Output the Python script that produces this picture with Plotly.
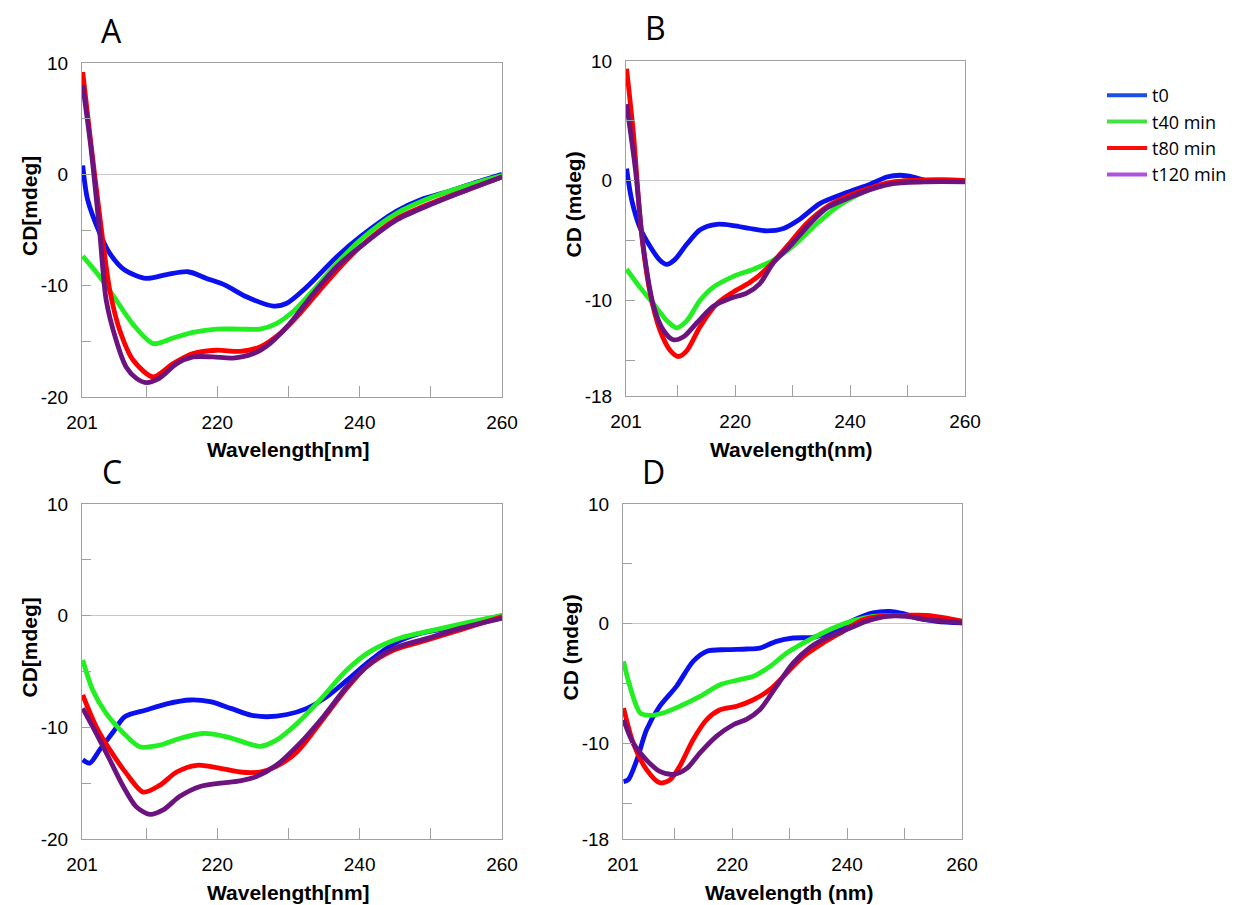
import plotly.graph_objects as go

# ---------------- data (wavelength nm, CD mdeg) ----------------
series_names = ["t0", "t40 min", "t80 min", "t120 min"]

# Panel A
A_t0_x = [201.1, 201.8, 203.5, 204.9, 207, 210, 212.9, 215.9, 218.5, 221.1, 224.1, 227.9, 229.7, 232.6, 236.8, 240.1, 245.2, 248.5, 252.7, 256.5, 260]
A_t0_y = [0.8, -2.3, -5.3, -7.1, -8.6, -9.35, -9.0, -8.75, -9.35, -9.95, -11.0, -11.83, -11.6, -10.1, -7.4, -5.6, -3.3, -2.3, -1.5, -0.7, 0.0]
A_t40_x = [201.1, 203.5, 205.8, 208.2, 211, 213.8, 216.6, 219.9, 223.2, 226, 228.3, 230.7, 233.5, 236.8, 240.1, 245.2, 250.4, 255.1, 260]
A_t40_y = [-7.35, -9.2, -11.3, -13.5, -15.2, -14.7, -14.2, -13.9, -13.9, -13.9, -13.4, -12.3, -10.4, -8.0, -5.9, -3.5, -2.0, -1.0, -0.1]
A_t80_x = [201.1, 202.1, 203.5, 204.9, 206.3, 208.2, 211, 213.8, 216.6, 219.9, 223.2, 226, 228.8, 231.6, 234.4, 237.3, 240.1, 245.2, 250.4, 255.1, 260]
A_t80_y = [9.2, 3.6, -3.8, -10.4, -14.0, -16.7, -18.2, -17.0, -16.1, -15.8, -15.9, -15.5, -14.3, -12.5, -10.4, -8.3, -6.5, -4.0, -2.5, -1.4, -0.24]
A_t120_x = [201.1, 202.3, 203.5, 204.4, 205.8, 207.2, 208.6, 210, 211.9, 214.3, 216.6, 219.4, 222.2, 225.1, 227.4, 230.2, 233.5, 236.8, 240.1, 245.2, 250.4, 255.1, 260]
A_t120_y = [8.0, 2.15, -5.3, -11.3, -14.9, -17.3, -18.3, -18.7, -18.3, -17.0, -16.4, -16.4, -16.5, -16.1, -15.2, -13.4, -10.7, -8.3, -6.5, -4.1, -2.6, -1.4, -0.24]

# Panel B
B_t0_x = [201.1, 202, 203.4, 205.2, 206.9, 208.1, 209.5, 211.6, 213.9, 216.8, 219.7, 222.6, 225.5, 228.4, 231.3, 234.8, 239.4, 243.5, 246.4, 248.7, 251, 253.3, 260]
B_t0_y = [1.0, -1.64, -3.9, -5.5, -6.65, -7.0, -6.6, -5.3, -4.1, -3.65, -3.75, -4.0, -4.2, -4.0, -3.2, -1.9, -1.0, -0.3, 0.3, 0.45, 0.3, 0.0, -0.05]
B_t40_x = [201.1, 203.4, 205.8, 208.1, 209.8, 211.6, 213.9, 216.2, 219.7, 223.2, 226.6, 230.1, 233.6, 237.7, 241.7, 245.2, 249.3, 260]
B_t40_y = [-7.4, -8.9, -10.3, -11.7, -12.3, -11.7, -10.0, -8.9, -8.0, -7.4, -6.65, -5.45, -3.87, -2.2, -1.1, -0.4, -0.05, 0.0]
B_t80_x = [201.1, 202.3, 203.7, 205.2, 206.9, 208.7, 210.1, 211.6, 213.9, 216.8, 219.7, 222.6, 225.5, 229, 232.4, 235.9, 240, 244, 247.5, 251, 256.2, 260]
B_t80_y = [9.35, 3.9, -4.4, -9.4, -12.5, -14.2, -14.7, -14.2, -12.2, -10.3, -9.3, -8.5, -7.35, -5.5, -3.6, -2.2, -1.2, -0.53, -0.1, 0.03, 0.08, 0.0]
B_t120_x = [201.1, 202.6, 204, 205.8, 207.5, 209.2, 211, 213.3, 216.2, 219.1, 222, 224.3, 226.6, 229.5, 233, 235.9, 240, 244, 247.5, 253.3, 260]
B_t120_y = [6.4, 1.1, -5.5, -10.5, -12.5, -13.3, -13.05, -11.9, -10.5, -9.85, -9.4, -8.6, -6.9, -5.5, -3.6, -2.3, -1.4, -0.67, -0.25, -0.1, -0.1]

# Panel C
C_t0_x = [201.1, 202.1, 203.5, 205.4, 207, 210, 212.9, 216.2, 219, 221.9, 224.7, 227, 229.8, 232.6, 235.4, 238.2, 241, 244.8, 248.5, 252.7, 256.5, 260]
C_t0_y = [-12.9, -13.2, -12.0, -10.4, -9.05, -8.45, -7.9, -7.55, -7.7, -8.3, -8.9, -9.05, -8.85, -8.3, -7.25, -5.8, -4.27, -2.5, -1.6, -1.1, -0.54, 0.0]
C_t40_x = [201.1, 202.5, 204.4, 206.8, 209.1, 211.9, 214.7, 218, 221.3, 224.1, 226, 228.3, 231.2, 234.4, 238.2, 241.5, 245.7, 250.4, 255.1, 260]
C_t40_y = [-3.97, -6.66, -8.75, -10.5, -11.74, -11.6, -11.0, -10.55, -10.85, -11.4, -11.7, -11.15, -9.65, -7.56, -4.87, -3.2, -2.0, -1.3, -0.63, 0.0]
C_t80_x = [201.1, 203, 204.9, 207.2, 209.6, 211.9, 214.3, 217.1, 219.9, 223.2, 226, 228.3, 231.2, 234.4, 238.2, 241, 244.8, 249.5, 254.1, 260]
C_t80_y = [-7.1, -9.95, -12.0, -14.1, -15.8, -15.2, -14.0, -13.4, -13.6, -14.0, -14.0, -13.5, -12.2, -9.65, -6.5, -4.57, -3.08, -2.18, -1.28, -0.09]
C_t120_x = [201.1, 203, 204.9, 206.8, 208.6, 210.5, 212.4, 214.7, 217.6, 220.4, 223.2, 225.5, 228.3, 231.6, 234.9, 238.2, 241.5, 244.8, 249.5, 254.1, 260]
C_t120_y = [-8.3, -10.55, -12.9, -15.3, -17.1, -17.8, -17.4, -16.2, -15.3, -15.0, -14.8, -14.4, -13.4, -11.44, -9.05, -6.36, -4.27, -2.93, -2.03, -1.14, -0.24]

# Panel D
D_t0_x = [201.1, 201.9, 203.4, 205.1, 207.4, 210.3, 213.2, 215.6, 219, 222.5, 224.8, 227.7, 230.6, 234.1, 237.6, 241.1, 244.5, 247.4, 249.8, 252.1, 255.6, 260]
D_t0_y = [-13.2, -13.05, -11.4, -8.87, -6.9, -5.24, -3.15, -2.3, -2.17, -2.12, -2.04, -1.48, -1.2, -1.14, -0.64, 0.28, 0.9, 1.03, 0.84, 0.47, 0.2, 0.06]
D_t40_x = [201.1, 202.2, 204, 205.7, 208, 210.9, 214.4, 217.9, 221.3, 223.7, 226.6, 229.5, 233.5, 237.6, 241.1, 244.5, 248, 253.8, 260]
D_t40_y = [-3.15, -5.24, -7.47, -7.67, -7.47, -6.9, -6.08, -5.1, -4.68, -4.4, -3.57, -2.45, -1.34, -0.36, 0.25, 0.6, 0.67, 0.6, 0.2]
D_t80_x = [201.1, 202.8, 205.1, 207.4, 209.2, 210.9, 213.2, 215.6, 217.9, 220.8, 223.7, 226.6, 229.5, 232.4, 235.8, 239.3, 242.8, 245.7, 250.3, 253.8, 257.3, 260]
D_t80_y = [-7.05, -10.0, -12.2, -13.3, -13.05, -11.9, -9.7, -8.0, -7.2, -6.9, -6.36, -5.5, -4.13, -2.73, -1.62, -0.64, 0.33, 0.61, 0.7, 0.7, 0.47, 0.2]
D_t120_x = [201.1, 202.8, 205.1, 207.4, 209.8, 212.1, 214.4, 217.3, 220.2, 222.5, 224.8, 227.7, 230.6, 233.5, 236.4, 239.9, 243.4, 246.8, 250.3, 253.8, 257.3, 260]
D_t120_y = [-8.03, -10.0, -11.4, -12.35, -12.6, -12.1, -10.8, -9.4, -8.45, -8.0, -7.2, -5.24, -3.3, -2.0, -1.2, -0.5, 0.2, 0.61, 0.61, 0.33, 0.2, 0.06]

x_tickvals = [201, 210, 220, 230, 240, 250, 260]
x_ticktext = ["201", "", "220", "", "240", "", "260"]
yAC_tickvals = [10, 5, 0, -5, -10, -15, -20]
yAC_ticktext = ["10", "", "0", "", "-10", "", "-20"]
yBD_tickvals = [10, 5, 0, -5, -10, -15, -18]
yBD_ticktext = ["10", "", "0", "", "-10", "", "-18"]

# ---------------- styling ----------------
line_colors = ["#0b10ee", "#22ee22", "#ff0000", "#6c1380"]
legend_colors = ["#1f4fe0", "#44e044", "#ff0a0a", "#b050e0"]

panels = {
    "A": dict(data=[(A_t0_x, A_t0_y), (A_t40_x, A_t40_y), (A_t80_x, A_t80_y), (A_t120_x, A_t120_y)],
              xdom=[82/1244, 502/1244], ydom=[1-397/905, 1-63/905], yr=[-20, 10],
              ytv=yAC_tickvals, ytt=yAC_ticktext, font="Liberation Sans",
              xtitle="Wavelength[nm]", ytitle="CD[mdeg]"),
    "B": dict(data=[(B_t0_x, B_t0_y), (B_t40_x, B_t40_y), (B_t80_x, B_t80_y), (B_t120_x, B_t120_y)],
              xdom=[626/1244, 965/1244], ydom=[1-396/905, 1-61/905], yr=[-18, 10],
              ytv=yBD_tickvals, ytt=yBD_ticktext, font="Liberation Sans Narrow, Liberation Sans",
              xtitle="Wavelength(nm)", ytitle="CD (mdeg)"),
    "C": dict(data=[(C_t0_x, C_t0_y), (C_t40_x, C_t40_y), (C_t80_x, C_t80_y), (C_t120_x, C_t120_y)],
              xdom=[82/1244, 502/1244], ydom=[1-839/905, 1-504/905], yr=[-20, 10],
              ytv=yAC_tickvals, ytt=yAC_ticktext, font="Liberation Sans",
              xtitle="Wavelength[nm]", ytitle="CD[mdeg]"),
    "D": dict(data=[(D_t0_x, D_t0_y), (D_t40_x, D_t40_y), (D_t80_x, D_t80_y), (D_t120_x, D_t120_y)],
              xdom=[623/1244, 962/1244], ydom=[1-839/905, 1-504/905], yr=[-18, 10],
              ytv=yBD_tickvals, ytt=yBD_ticktext, font="Liberation Sans Narrow, Liberation Sans",
              xtitle="Wavelength (nm)", ytitle="CD (mdeg)"),
}

fig = go.Figure()
layout = dict(width=1244, height=905, margin=dict(l=0, r=0, t=0, b=0, pad=0, autoexpand=False),
              paper_bgcolor="white", plot_bgcolor="white", showlegend=True)
annotations = []

for i, (key, p) in enumerate(panels.items()):
    n = "" if i == 0 else str(i + 1)
    for (xs, ys), name, col in zip(p["data"], series_names, line_colors):
        fig.add_trace(go.Scatter(x=xs, y=ys, mode="lines", name=name, showlegend=False,
                                 line=dict(color=col, width=4.8, shape="spline", smoothing=0.8),
                                 xaxis="x" + n, yaxis="y" + n))
    layout["xaxis" + n] = dict(domain=p["xdom"], anchor="y" + n, range=[201, 260],
                               tickmode="array", tickvals=x_tickvals, ticktext=x_ticktext,
                               ticks="inside", ticklen=11, tickcolor="#a0a0a0",
                               showline=True, linecolor="#a0a0a0", linewidth=1, mirror=True,
                               showgrid=False, zeroline=False, ticklabelstandoff=8,
                               automargin=False,
                               tickfont=dict(family=p["font"], size=19, color="black"))
    layout["yaxis" + n] = dict(domain=p["ydom"], anchor="x" + n, range=p["yr"],
                               tickmode="array", tickvals=p["ytv"], ticktext=p["ytt"],
                               ticks="inside", ticklen=9, tickcolor="#a0a0a0",
                               showline=True, linecolor="#a0a0a0", linewidth=1, mirror=True,
                               showgrid=False, zeroline=True, zerolinecolor="#c8c8c8", zerolinewidth=1,
                               ticklabelstandoff=9, automargin=False,
                               tickfont=dict(family=p["font"], size=19, color="black"))
    x0, x1 = p["xdom"]
    y0, y1 = p["ydom"]
    # panel letter
    annotations.append(dict(text=key, xref="paper", yref="paper", x=x0 + 30/1244, y=y1 + 33/905,
                            xanchor="center", yanchor="middle", showarrow=False,
                            font=dict(family="Open Sans", size=32, color="black")))
    # axis titles
    xfont = "Liberation Sans" if key in "AC" else "Liberation Sans Narrow, Liberation Sans"
    annotations.append(dict(text="<b>" + p["xtitle"] + "</b>", xref="paper", yref="paper",
                            x=(x0 + x1) / 2 - 4/1244, y=y0 - 53/905, xanchor="center", yanchor="middle",
                            showarrow=False, font=dict(family=xfont, size=21, color="black")))
    annotations.append(dict(text="<b>" + p["ytitle"] + "</b>", xref="paper", yref="paper",
                            x=x0 - 53/1244, y=(y0 + y1) / 2 + 24/905, xanchor="center", yanchor="middle",
                            textangle=-90, showarrow=False,
                            font=dict(family="Liberation Sans", size=21, color="black")))

# legend entries (legend colours differ slightly from the curves)
for name, col in zip(series_names, legend_colors):
    fig.add_trace(go.Scatter(x=[None], y=[None], mode="lines", name=name,
                             line=dict(color=col, width=4), xaxis="x2", yaxis="y2"))

layout["annotations"] = annotations
layout["legend"] = dict(x=1102/1244, y=1-77/905, xanchor="left", yanchor="top",
                        font=dict(family="Open Sans", size=18, color="black"),
                        bgcolor="rgba(0,0,0,0)", tracegroupgap=0, itemwidth=40)
fig.update_layout(**layout)
fig.write_html("out.html")
